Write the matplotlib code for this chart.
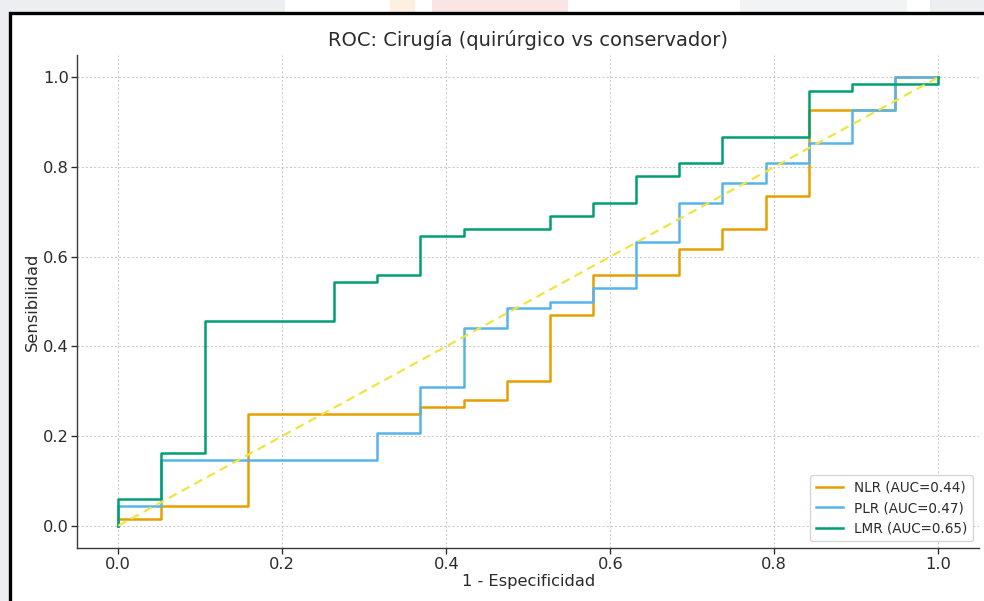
import matplotlib
matplotlib.use("Agg")
import matplotlib.pyplot as plt
from matplotlib.patches import Rectangle

# ---------------- data ----------------
nlr_fpr = [0.0, 0.0, 0.0526, 0.0526, 0.1579, 0.1579, 0.3684, 0.3684, 0.4211, 0.4211,
           0.4737, 0.4737, 0.5263, 0.5263, 0.5789, 0.5789, 0.6842, 0.6842, 0.7368, 0.7368,
           0.7895, 0.7895, 0.8421, 0.8421, 0.9474, 0.9474, 1.0]
nlr_tpr = [0.0, 0.0147, 0.0147, 0.0441, 0.0441, 0.25, 0.25, 0.2647, 0.2647, 0.2794,
           0.2794, 0.3235, 0.3235, 0.4706, 0.4706, 0.5588, 0.5588, 0.6176, 0.6176, 0.6618,
           0.6618, 0.7353, 0.7353, 0.9265, 0.9265, 1.0, 1.0]

plr_fpr = [0.0, 0.0, 0.0526, 0.0526, 0.3158, 0.3158, 0.3684, 0.3684, 0.4211, 0.4211,
           0.4737, 0.4737, 0.5263, 0.5263, 0.5789, 0.5789, 0.6316, 0.6316, 0.6842, 0.6842,
           0.7368, 0.7368, 0.7895, 0.7895, 0.8421, 0.8421, 0.8947, 0.8947, 0.9474, 0.9474, 1.0]
plr_tpr = [0.0, 0.0441, 0.0441, 0.1471, 0.1471, 0.2059, 0.2059, 0.3088, 0.3088, 0.4412,
           0.4412, 0.4853, 0.4853, 0.5, 0.5, 0.5294, 0.5294, 0.6324, 0.6324, 0.7206,
           0.7206, 0.7647, 0.7647, 0.8088, 0.8088, 0.8529, 0.8529, 0.9265, 0.9265, 1.0, 1.0]

lmr_fpr = [0.0, 0.0, 0.0526, 0.0526, 0.1053, 0.1053, 0.2632, 0.2632, 0.3158, 0.3158,
           0.3684, 0.3684, 0.4211, 0.4211, 0.5263, 0.5263, 0.5789, 0.5789, 0.6316, 0.6316,
           0.6842, 0.6842, 0.7368, 0.7368, 0.8421, 0.8421, 0.8947, 0.8947, 1.0, 1.0]
lmr_tpr = [0.0, 0.0588, 0.0588, 0.1618, 0.1618, 0.4559, 0.4559, 0.5441, 0.5441, 0.5588,
           0.5588, 0.6471, 0.6471, 0.6618, 0.6618, 0.6912, 0.6912, 0.7206, 0.7206, 0.7794,
           0.7794, 0.8088, 0.8088, 0.8676, 0.8676, 0.9706, 0.9706, 0.9853, 0.9853, 1.0]

series_names = ["NLR", "PLR", "LMR"]
auc_values = [0.44, 0.47, 0.65]
chance_x = [0.0, 1.0]
chance_y = [0.0, 1.0]
x_ticks = [0.0, 0.2, 0.4, 0.6, 0.8, 1.0]
y_ticks = [0.0, 0.2, 0.4, 0.6, 0.8, 1.0]

title_text = "ROC: Cirugía (quirúrgico vs conservador)"
xlabel_text = "1 - Especificidad"
ylabel_text = "Sensibilidad"

colors = ["#E69F00", "#56B4E9", "#009E73"]
chance_color = "#F0E442"

# ---------------- figure ----------------
W, H = 984, 601
fig = plt.figure(figsize=(W / 100, H / 100), dpi=100)
fig.patch.set_facecolor("#eceef2")

def px_rect(x0, y0, x1, y1, **kw):
    # rectangle given in pixel coords (y from top)
    r = Rectangle((x0 / W, 1 - y1 / H), (x1 - x0) / W, (y1 - y0) / H,
                  transform=fig.transFigure, **kw)
    fig.add_artist(r)
    return r

# faint screenshot background strip at the top
px_rect(285, 0, 390, 13, facecolor="#ffffff", edgecolor="none", zorder=-3)
px_rect(390, 0, 415, 13, facecolor="#fdf0e0", edgecolor="none", zorder=-3)
px_rect(415, 0, 432, 13, facecolor="#ffffff", edgecolor="none", zorder=-3)
px_rect(432, 0, 568, 13, facecolor="#fae4e4", edgecolor="none", zorder=-3)
px_rect(568, 0, 740, 13, facecolor="#ffffff", edgecolor="none", zorder=-3)
px_rect(740, 0, 907, 13, facecolor="#f2f3f5", edgecolor="none", zorder=-3)
px_rect(907, 0, 930, 13, facecolor="#ffffff", edgecolor="none", zorder=-3)
# white figure area inside the black frame
px_rect(9.5, 13.5, 1100, 700, facecolor="white", edgecolor="black",
        linewidth=2.4, zorder=-2, clip_on=False)

ax = fig.add_axes([77.3 / W, 1 - 548.1 / H, 902 / W, 493.2 / H])
ax.set_facecolor("white")

fpr_list = [nlr_fpr, plr_fpr, lmr_fpr]
tpr_list = [nlr_tpr, plr_tpr, lmr_tpr]
for name, auc, fx, ty, c in zip(series_names, auc_values, fpr_list, tpr_list, colors):
    ax.plot(fx, ty, color=c, linewidth=1.8, label=f"{name} (AUC={auc:.2f})")

ax.plot(chance_x, chance_y, linestyle="--", color=chance_color, linewidth=1.6,
        dashes=(4, 2.5))

ax.set_xlim(-0.05, 1.05)
ax.set_ylim(-0.05, 1.05)
ax.set_xticks(x_ticks)
ax.set_yticks(y_ticks)
ax.set_xticklabels([f"{v:.1f}" for v in x_ticks])
ax.set_yticklabels([f"{v:.1f}" for v in y_ticks])

txtc = "#2b2b2b"
ax.tick_params(axis="both", labelsize=11.7, colors=txtc, length=4.2, width=0.95,
               direction="out", pad=2)
for s in ["top", "right"]:
    ax.spines[s].set_visible(False)
for s in ["left", "bottom"]:
    ax.spines[s].set_color("#3a3a3a")
    ax.spines[s].set_linewidth(1.0)

ax.grid(True, linestyle=(0, (2, 2)), color="#c4c4c4", linewidth=0.75, alpha=0.9)
ax.set_axisbelow(True)

ax.set_title(title_text, fontsize=14, color=txtc, pad=6.5)
ax.set_xlabel(xlabel_text, fontsize=11.7, color=txtc, labelpad=1.5)
ax.set_ylabel(ylabel_text, fontsize=11.7, color=txtc, labelpad=1.8)

leg = ax.legend(loc="lower right", fontsize=9.75, framealpha=0.8,
                edgecolor="#cccccc", handlelength=2.0, borderaxespad=0.5)
for t in leg.get_texts():
    t.set_color(txtc)

fig.savefig("out.png", dpi=100, facecolor=fig.get_facecolor())
